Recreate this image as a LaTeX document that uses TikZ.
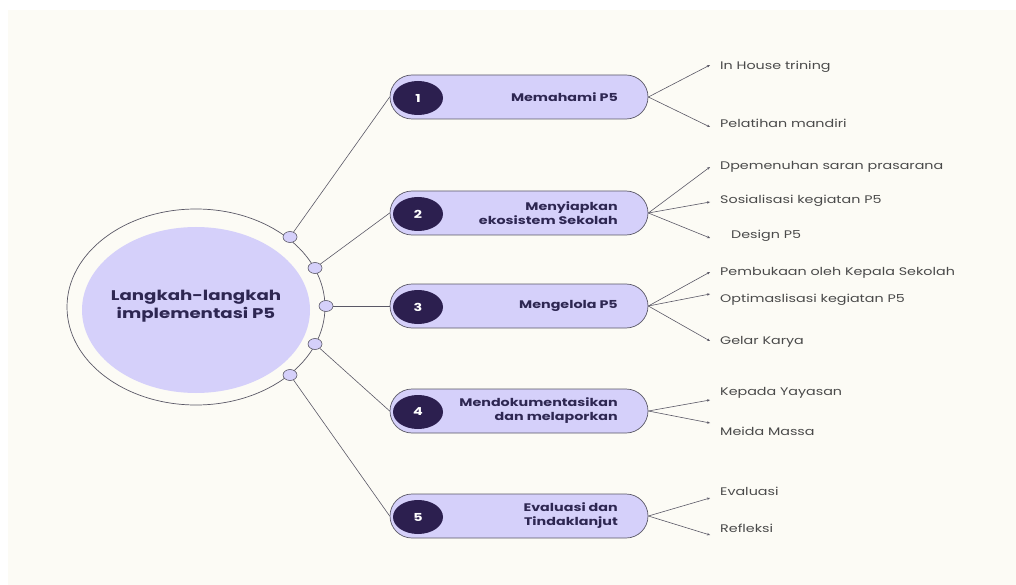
\documentclass[tikz,border=0pt]{standalone}
\usepackage{fontspec}
\setmainfont{Poppins}
\newfontfamily\popw[FakeStretch=1.3]{Poppins}
\usetikzlibrary{shapes.geometric,arrows.meta}
\definecolor{bgcream}{HTML}{FCFBF5}
\definecolor{lav}{HTML}{D5D0FA}
\definecolor{darkp}{HTML}{2C1F4F}
\definecolor{navy}{HTML}{2E2752}
\definecolor{edge}{HTML}{5A5866}
\definecolor{leaf}{HTML}{4A4A4A}
\tikzset{
  pill/.style={draw=edge, line width=0.7pt, fill=lav, rounded corners=22pt, minimum width=258pt, minimum height=44pt, inner sep=0pt},
  numdot/.style={ellipse, fill=darkp, minimum width=50pt, minimum height=34pt, inner sep=0pt, text=white, font=\popw\bfseries\fontsize{11}{13}\selectfont},
  pilltext/.style={anchor=east, align=right, text=navy, font=\popw\bfseries\fontsize{11}{14}\selectfont, inner sep=0pt},
  knob/.style={ellipse, draw=edge, line width=0.6pt, fill=lav, minimum width=14pt, minimum height=11pt, inner sep=0pt},
  link/.style={draw=edge, line width=0.6pt},
  branch/.style={draw=edge, line width=0.6pt, -{Stealth[length=3pt,width=2.5pt]}},
  leaftext/.style={anchor=west, text=leaf, font=\popw\fontsize{11}{13}\selectfont, inner sep=0pt}
}
\begin{document}
\begin{tikzpicture}[x=1pt,y=-1pt]
\useasboundingbox (0,0) rectangle (1016,585);
\fill[white] (0,0) rectangle (1016,585);
\fill[bgcream] (8,10) rectangle (1016,585);
% central circle
\node[ellipse, draw=edge, line width=0.7pt, fill=bgcream, minimum width=258pt, minimum height=196pt, inner sep=0pt] (outer) at (196,307) {};
\node[ellipse, fill=lav, minimum width=228pt, minimum height=166pt, inner sep=0pt] (inner) at (196,310) {};
\node[align=center, text=navy, font=\popw\bfseries\fontsize{14}{18}\selectfont] (title) at (196,306) {Langkah-langkah\\implementasi P5};
% knobs
\node[knob] (k1) at (290,237) {};
\node[knob] (k2) at (315,268) {};
\node[knob] (k3) at (326,306) {};
\node[knob] (k4) at (315,344) {};
\node[knob] (k5) at (290,375) {};
% pills
\foreach \i/\y in {1/97,2/213,3/306,4/411,5/516}{
  \node[pill] (p\i) at (519,\y) {};
}
\foreach \i/\y in {1/97,2/213,3/306,4/411,5/516}{
  \node[numdot] (n\i) at (418,\y+1) {\i};
}
\node[pilltext] (t1) at (618,97) {Memahami P5};
\node[pilltext] (t2) at (618,213) {Menyiapkan\\ekosistem Sekolah};
\node[pilltext] (t3) at (618,306) {Mengelola P5};
\node[pilltext] (t4) at (618,411) {Mendokumentasikan\\dan melaporkan};
\node[pilltext] (t5) at (618,516) {Evaluasi dan\\Tindaklanjut};
% links
\foreach \i in {1,...,5}{
  \draw[link] (k\i) -- (p\i.west);
}
% leaf tips
\coordinate (a1) at (710,65);
\coordinate (a2) at (710,127);
\coordinate (b1) at (710,167);
\coordinate (b2) at (710,202);
\coordinate (b3) at (710,238);
\coordinate (c1) at (710,272);
\coordinate (c2) at (710,294);
\coordinate (c3) at (710,341);
\coordinate (d1) at (710,400);
\coordinate (d2) at (710,423);
\coordinate (e1) at (710,498);
\coordinate (e2) at (710,535);
\foreach \t in {a1,a2}{\draw[branch] (p1.east) -- (\t);}
\foreach \t in {b1,b2,b3}{\draw[branch] (p2.east) -- (\t);}
\foreach \t in {c1,c2,c3}{\draw[branch] (p3.east) -- (\t);}
\foreach \t in {d1,d2}{\draw[branch] (p4.east) -- (\t);}
\foreach \t in {e1,e2}{\draw[branch] (p5.east) -- (\t);}
% leaf labels
\node[leaftext] (la1) at (720,67) {In House trining};
\node[leaftext] (la2) at (720,123) {Pelatihan mandiri};
\node[leaftext] (lb1) at (720,167) {Dpemenuhan saran prasarana};
\node[leaftext] (lb2) at (720,201) {Sosialisasi kegiatan P5};
\node[leaftext] (lb3) at (731,236) {Design P5};
\node[leaftext] (lc1) at (720,273) {Pembukaan oleh Kepala Sekolah};
\node[leaftext] (lc2) at (720,300) {Optimaslisasi kegiatan P5};
\node[leaftext] (lc3) at (720,342) {Gelar Karya};
\node[leaftext] (ld1) at (720,393) {Kepada Yayasan};
\node[leaftext] (ld2) at (720,431) {Meida Massa};
\node[leaftext] (le1) at (720,491) {Evaluasi};
\node[leaftext] (le2) at (720,528) {Refleksi};
\end{tikzpicture}
\end{document}
